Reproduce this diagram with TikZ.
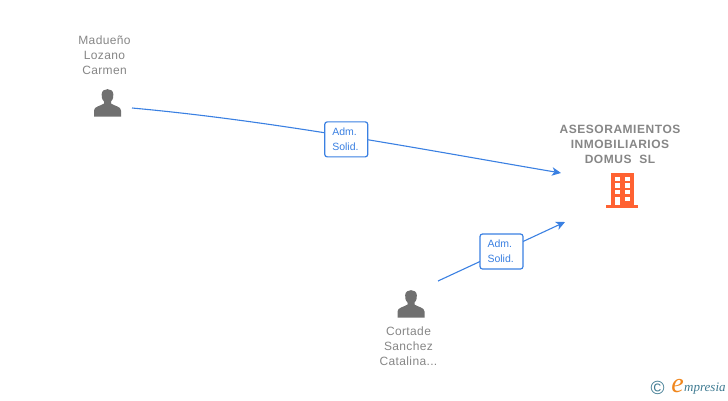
\documentclass[tikz,border=0pt]{standalone}
\usepackage{fontspec}
\setmainfont{Liberation Sans}
\newfontfamily\namefont[LetterSpace=3]{Liberation Sans}
\newfontfamily\firmfont[LetterSpace=4.5]{Liberation Sans}
\newfontfamily\logofont{Liberation Serif}
\usetikzlibrary{arrows.meta}
\definecolor{linkblue}{RGB}{58,128,226}
\definecolor{icongray}{RGB}{112,112,112}
\definecolor{textgray}{RGB}{134,134,134}
\definecolor{firmorange}{RGB}{255,98,50}
\definecolor{logoteal}{RGB}{62,122,145}
\definecolor{logoorange}{RGB}{240,135,30}
\tikzset{
namelabel/.style={align=center,text=textgray,font=\namefont\fontsize{12}{15}\selectfont,inner sep=0pt},
firmlabel/.style={align=center,text=textgray,font=\firmfont\bfseries\fontsize{12}{15}\selectfont,inner sep=0pt},
rolebox/.style={draw=linkblue,line width=1.2pt,rounded corners=2.5pt,fill=white,text=linkblue,align=left,
  text width=28pt,minimum width=43pt,minimum height=35pt,inner sep=0pt,font=\fontsize{10.5}{15}\selectfont},
link/.style={draw=linkblue,line width=1.1pt,-{Stealth[length=9pt,width=8.5pt,inset=2.5pt]}},
personicon/.pic={
  \fill[icongray] (-13.5,13.5) -- (-13.5,7.5) .. controls (-13.5,3.5) and (-7,3) .. (-3.5,0.5)
    -- (-3.5,-1.5) .. controls (-6,-4) and (-6,-7) .. (-5.8,-9)
    .. controls (-5.5,-15.5) and (5.5,-15.5) .. (5.8,-9)
    .. controls (6,-7) and (6,-4) .. (3.5,-1.5) -- (3.5,0.5)
    .. controls (7,3) and (13.5,3.5) .. (13.5,7.5) -- (13.5,13.5) -- cycle;
}
}
\begin{document}
\begin{tikzpicture}[x=1pt,y=-1pt]
\useasboundingbox (0,0) rectangle (728,400);

\coordinate (madueno) at (132,108);
\coordinate (cortade) at (438,281);
\coordinate (firmin) at (561,173);
\coordinate (firmlow) at (565,222);

\pic at (107.5,103) {personicon};
\pic at (411,304) {personicon};

\node[namelabel] (maduenoname) at (104.5,55) {Madueño\\Lozano\\Carmen};
\node[namelabel] (cortadename) at (408.5,346) {Cortade\\Sanchez\\Catalina...};
\node[firmlabel] (firmname) at (620,144) {ASESORAMIENTOS\\INMOBILIARIOS\\DOMUS\ \ SL};

% building
\fill[firmorange] (611,173) rectangle (634,205);
\fill[firmorange] (606,204.5) rectangle (638,207.5);
\foreach \i in {0,1,2,3}
{
\fill[white] (614.5,176.7+6.7*\i) rectangle (619.5,181+6.7*\i);
\fill[white] (624.7,176.7+6.7*\i) rectangle (630,181+6.7*\i);
}
\fill[white] (614.5,196.8) rectangle (619.5,205);

\draw[link] (madueno) .. controls (275,121) and (420,149) .. node[rolebox,pos=0.5,xshift=-1pt,yshift=-3pt] (roleone) {Adm.\\Solid.} (firmin);
\draw[link] (cortade) -- node[rolebox,pos=0.5] (roletwo) {Adm.\\Solid.} (firmlow);

% logo
\node[text=logoteal,font=\fontsize{19}{19}\selectfont,inner sep=0pt] (logoc) at (657.5,388) {©};
\node[text=logoorange,font=\logofont\itshape\fontsize{28}{28}\selectfont,inner sep=0pt] (logoe) at (677.5,386) {e};
\node[text=logoteal,font=\logofont\itshape\fontsize{13}{14}\selectfont,inner sep=0pt,anchor=west] (logotext) at (684,389) {mpresia};
\end{tikzpicture}
\end{document}
